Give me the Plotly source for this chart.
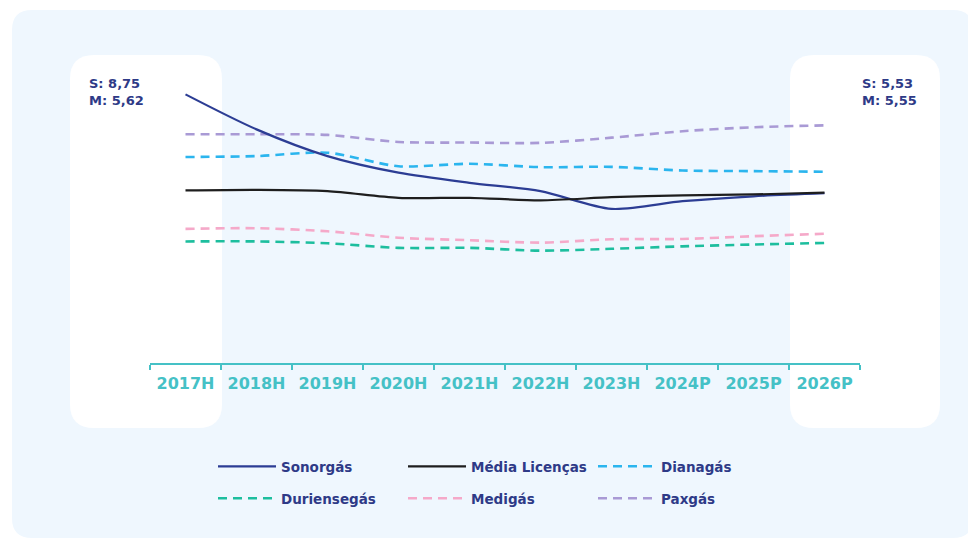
import plotly.graph_objects as go

# categories and series
years = ['2017H', '2018H', '2019H', '2020H', '2021H', '2022H', '2023H', '2024P', '2025P', '2026P']

sonorgas = [8.75, 7.61, 6.74, 6.20, 5.87, 5.60, 5.02, 5.27, 5.43, 5.53]
media = [5.62, 5.64, 5.60, 5.38, 5.38, 5.30, 5.40, 5.46, 5.49, 5.55]
dianagas = [6.71, 6.74, 6.85, 6.41, 6.49, 6.38, 6.39, 6.27, 6.25, 6.23]
duriensegas = [3.96, 3.96, 3.90, 3.75, 3.75, 3.66, 3.72, 3.80, 3.86, 3.91]
medigas = [4.37, 4.39, 4.29, 4.08, 4.00, 3.92, 4.03, 4.04, 4.13, 4.21]
paxgas = [7.45, 7.45, 7.43, 7.20, 7.18, 7.17, 7.34, 7.55, 7.68, 7.74]

left_label = 'S: 8,75<br>M: 5,62'
right_label = 'S: 5,53<br>M: 5,55'

NAVY = '#2E3A87'
TEAL = '#45C1C6'
FONT = 'DejaVu Sans'

# page body has an 8px margin, so the figure is shifted; work in screen px
OFF = 8
W, H = 976 - OFF, 538 - OFF
ML, PW = 150 - OFF, 710
MT, PH = 56 - OFF, 307
MR, MB = W - ML - PW, H - MT - PH


def px2paper(sx, sy):
    return (sx - OFF - ML) / PW, (MT + PH - (sy - OFF)) / PH


def rounded_box(x0, y0, x1, y1, r):
    # screen pixel box -> rounded path in paper coordinates
    ax, ay = px2paper(x0, y0)
    bx, by = px2paper(x1, y1)
    rx, ry = r / PW, r / PH
    return (f'M{ax+rx},{ay} L{bx-rx},{ay} Q{bx},{ay} {bx},{ay-ry} '
            f'L{bx},{by+ry} Q{bx},{by} {bx-rx},{by} '
            f'L{ax+rx},{by} Q{ax},{by} {ax},{by+ry} '
            f'L{ax},{ay-ry} Q{ax},{ay} {ax+rx},{ay} Z')


fig = go.Figure()

series = [
    ('Sonorgás', sonorgas, '#2C3D94', 'solid', 'legend'),
    ('Média Licenças', media, '#1E1E1E', 'solid', 'legend'),
    ('Dianagás', dianagas, '#2BB5EE', '9px,6px', 'legend'),
    ('Duriensegás', duriensegas, '#1DBE9E', '9px,6px', 'legend2'),
    ('Medigás', medigas, '#F5A9C9', '9px,6px', 'legend2'),
    ('Paxgás', paxgas, '#A99AD5', '9px,6px', 'legend2'),
]
names = [s[0] for s in series]
# draw dashed first so the solid lines sit on top; legend order via legendrank
for name, vals, color, dash, leg in series[2:] + series[:2]:
    width = 2.2 if dash == 'solid' else 2.6
    fig.add_trace(go.Scatter(x=years, y=vals, name=name, mode='lines',
                             line=dict(color=color, width=width, dash=dash, shape='spline', smoothing=0.8),
                             legend=leg, legendrank=names.index(name) + 1, hoverinfo='skip'))

shapes = [
    dict(type='path', xref='paper', yref='paper', path=rounded_box(12, 10, 973, 538, 20),
         fillcolor='#EFF7FE', line=dict(width=0), layer='below'),
    dict(type='path', xref='paper', yref='paper', path=rounded_box(70, 55, 222, 428, 24),
         fillcolor='white', line=dict(width=0), layer='below'),
    dict(type='path', xref='paper', yref='paper', path=rounded_box(790, 55, 940, 428, 24),
         fillcolor='white', line=dict(width=0), layer='below'),
]

ann_font = dict(family=FONT, size=13, color=NAVY, weight='bold')
annotations = [
    dict(text=left_label, xref='paper', yref='paper', x=px2paper(87, 0)[0], y=px2paper(0, 74)[1],
         xanchor='left', yanchor='top', align='left', showarrow=False, font=ann_font),
    dict(text=right_label, xref='paper', yref='paper', x=px2paper(860, 0)[0], y=px2paper(0, 74)[1],
         xanchor='left', yanchor='top', align='left', showarrow=False, font=ann_font),
]

legend_style = dict(orientation='h', xanchor='left', yanchor='top', bgcolor='rgba(0,0,0,0)',
                    entrywidth=117, entrywidthmode='pixels', itemwidth=58,
                    font=dict(family=FONT, size=13.5, color=NAVY, weight='bold'),
                    traceorder='normal')

fig.update_layout(
    width=W, height=H,
    margin=dict(l=ML, r=MR, t=MT, b=MB),
    paper_bgcolor='white', plot_bgcolor='rgba(0,0,0,0)',
    shapes=shapes, annotations=annotations,
    legend=dict(x=px2paper(213, 0)[0], y=px2paper(0, 451)[1], **legend_style),
    legend2=dict(x=px2paper(213, 0)[0], y=px2paper(0, 483)[1], **legend_style),
    xaxis=dict(type='category', categoryorder='array', categoryarray=years,
               range=[-0.5, 9.5], showgrid=False, zeroline=False,
               showline=True, linecolor=TEAL, linewidth=2,
               ticks='outside', tickson='boundaries', tickcolor=TEAL, ticklen=5, tickwidth=2,
               ticklabelstandoff=5,
               tickfont=dict(family=FONT, size=16, color=TEAL, weight='bold')),
    yaxis=dict(range=[0, 10], visible=False, fixedrange=True),
    showlegend=True,
)

fig.write_html('out.html')
